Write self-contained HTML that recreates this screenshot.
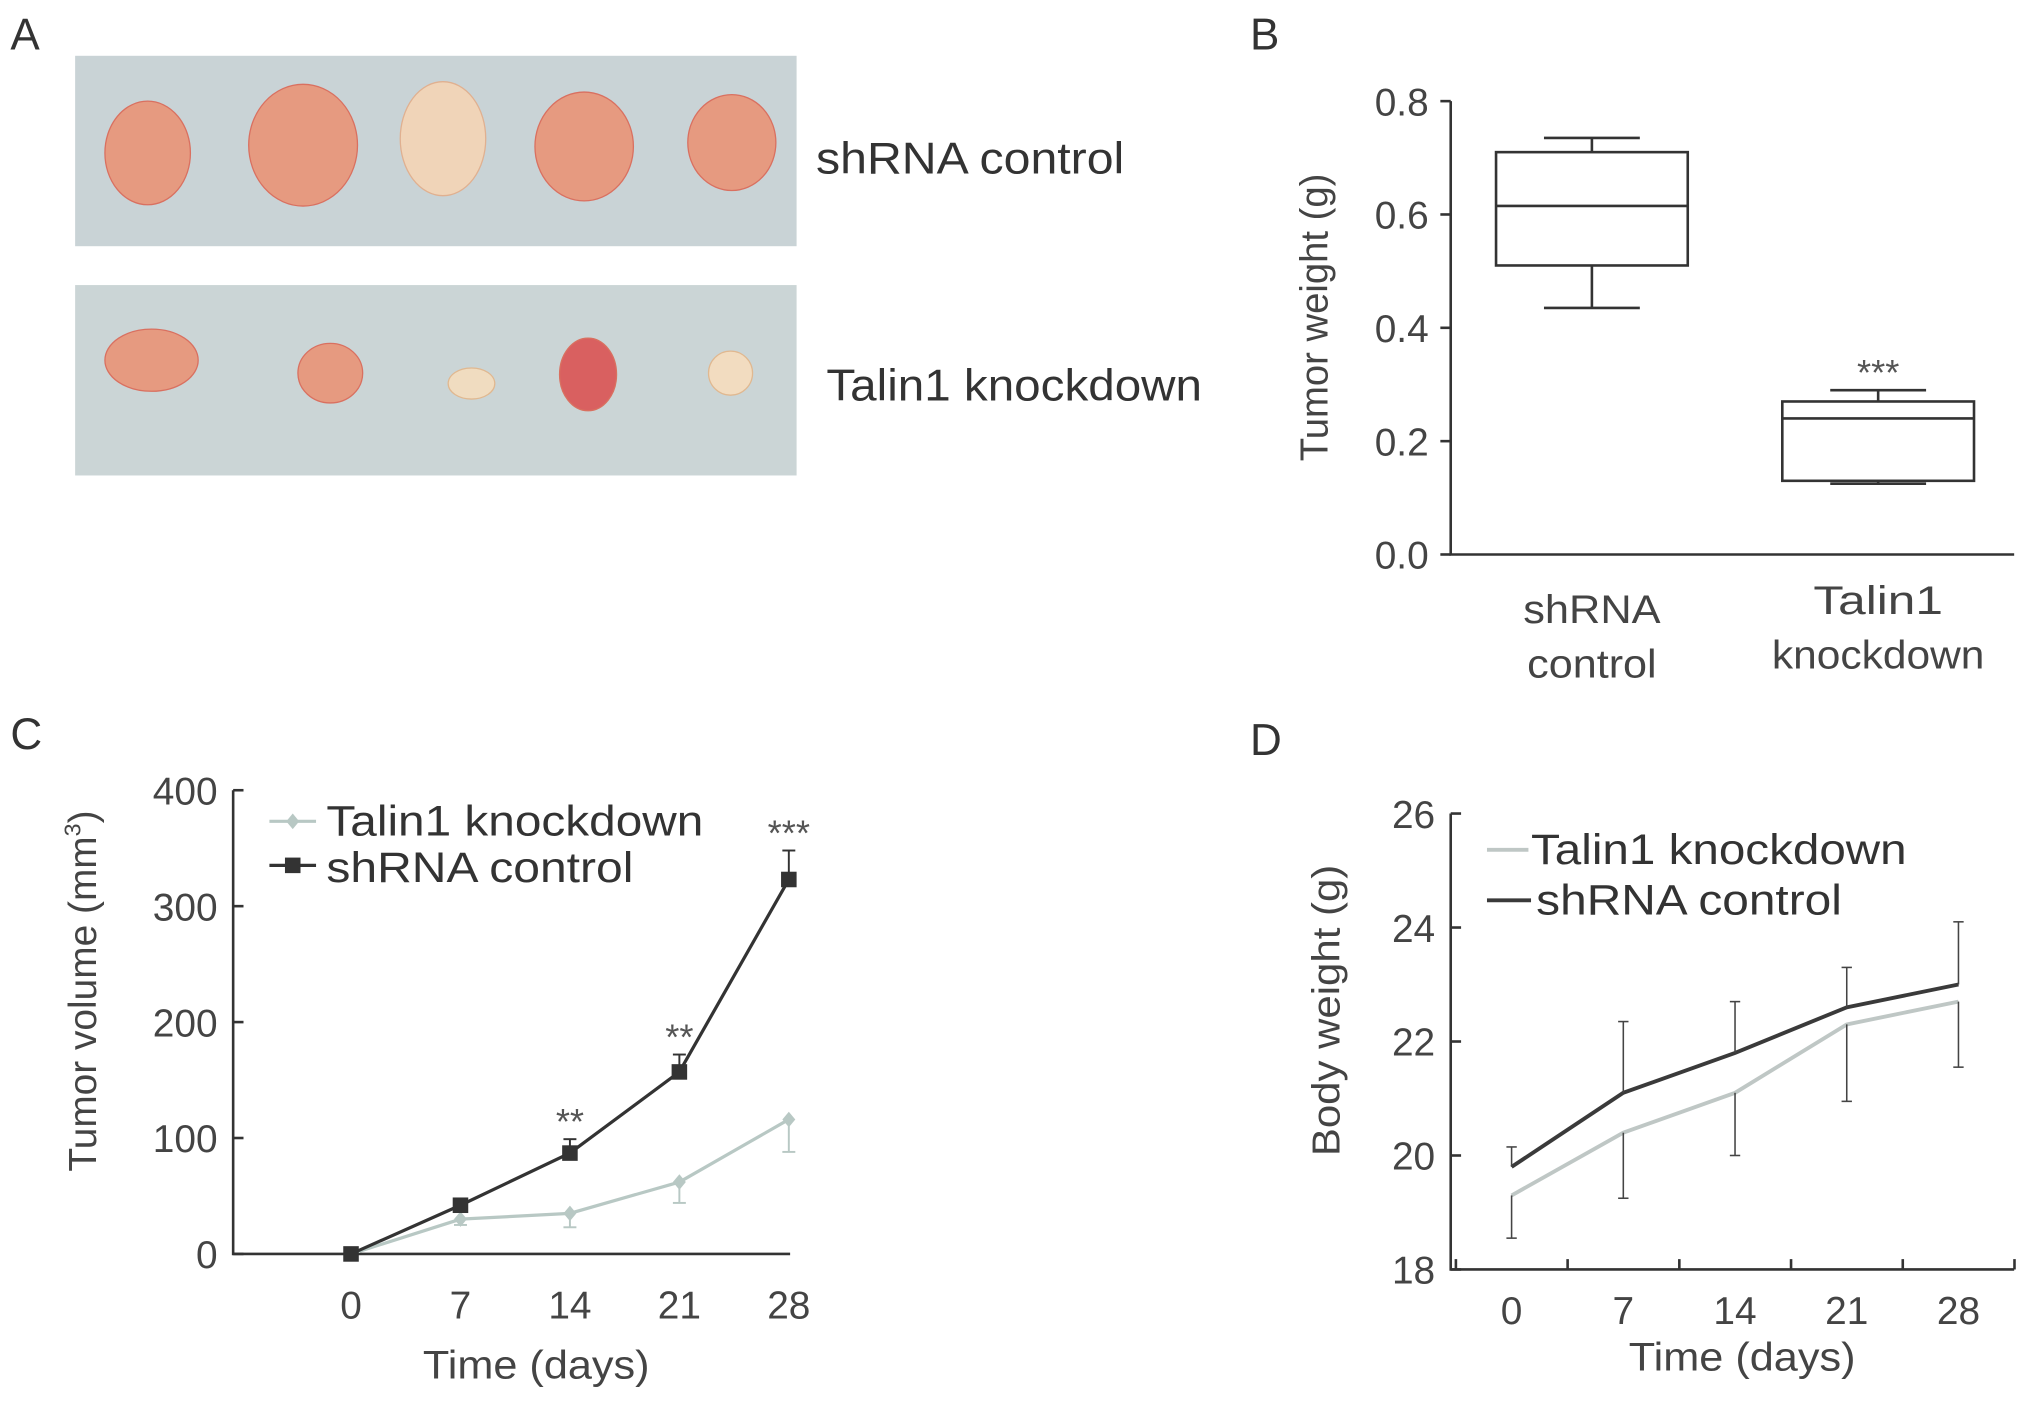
<!DOCTYPE html>
<html><head><meta charset="utf-8">
<style>
html,body{margin:0;padding:0;background:#fff;}
svg{display:block;font-family:"Liberation Sans",sans-serif;}
</style></head>
<body>
<svg id="fig" width="2031" height="1403" viewBox="0 0 1568 1083" xmlns="http://www.w3.org/2000/svg">
<g>
<text x="8" y="38" font-size="34" fill="#333">A</text>
<rect x="58" y="43" width="557" height="147" fill="#c9d3d6"/>
<rect x="58" y="220" width="557" height="147" fill="#cbd5d6"/>
<g fill="#e69a80" stroke="#d97060" stroke-width="1">
<ellipse cx="114" cy="118" rx="33" ry="40"/>
<ellipse cx="234" cy="112" rx="42" ry="47"/>
<ellipse cx="342" cy="107" rx="33" ry="44" fill="#f0d4b8" stroke="#e0b090"/>
<ellipse cx="451" cy="113" rx="38" ry="42"/>
<ellipse cx="565" cy="110" rx="34" ry="37"/>
<ellipse cx="117" cy="278" rx="36" ry="24"/>
<ellipse cx="255" cy="288" rx="25" ry="23"/>
<ellipse cx="364" cy="296" rx="18" ry="12" fill="#f0dcc0" stroke="#e0b890"/>
<ellipse cx="454" cy="289" rx="22" ry="28" fill="#d96060"/>
<ellipse cx="564" cy="288" rx="17" ry="17" fill="#f2dcc0" stroke="#e0b890"/>
</g>
<text x="630" y="134" font-size="34" fill="#333" textLength="238" lengthAdjust="spacingAndGlyphs">shRNA control</text>
<text x="638" y="309" font-size="34" fill="#333" textLength="290" lengthAdjust="spacingAndGlyphs">Talin1 knockdown</text>
</g>
<text x="965" y="38" font-size="34" fill="#333">B</text>
<text x="8" y="578" font-size="34" fill="#333">C</text>
<text x="965" y="583" font-size="34" fill="#333">D</text>
<g id="b"></g>
<g id="c"></g>
<g id="d"></g>
</svg>
<script>
// Panel B data
const bCategories = [["shRNA","control"],["Talin1","knockdown"]];
const bMin = [0.435, 0.125];
const bQ1 = [0.51, 0.13];
const bMedian = [0.615, 0.24];
const bQ3 = [0.71, 0.27];
const bMax = [0.735, 0.29];
const bTicks = ["0.0","0.2","0.4","0.6","0.8"];
const bStars = ["", "***"];
// Panel C data
const cDays = [0,7,14,21,28];
const cControl = [0,42,87,157,323];
const cControlErr = [0,5,12,15,25];
const cKnock = [0,30,35,62,116];
const cKnockErr = [0,5,12,18,28];
const cYTicks = [0,100,200,300,400];
const cStars = ["","","**","**","***"];
// Panel D data
const dDays = [0,7,14,21,28];
const dControl = [19.8,21.1,21.8,22.6,23.0];
const dControlErr = [0.35,1.25,0.9,0.7,1.1];
const dKnock = [19.3,20.4,21.1,22.3,22.7];
const dKnockErr = [0.75,1.15,1.1,1.35,1.15];
const dYTicks = [18,20,22,24,26];

const NS="http://www.w3.org/2000/svg";
function mk(parent,tag,attrs,text){const e=document.createElementNS(NS,tag);for(const k in attrs)e.setAttribute(k,attrs[k]);if(text!==undefined)e.textContent=text;parent.appendChild(e);return e;}

// ---- Panel B
(function(){
const g=document.getElementById('b');
const y=v=>428-v/0.8*350;
const x=i=>1229+i*221;
const ax=mk(g,'path',{d:'M1120 78 V428 H1555',fill:'none',stroke:'#333','stroke-width':2});


bTicks.forEach(t=>{const v=parseFloat(t);
 const tk=mk(g,'line',{x1:1112,x2:1120,y1:y(v),y2:y(v),stroke:'#333','stroke-width':2});
 
 
 const lb=mk(g,'text',{x:1103,y:y(v)+11,'font-size':30,'text-anchor':'end',fill:'#444'},t);
 
 
});
const yt=mk(g,'text',{transform:'translate(1025 245) rotate(-90)','font-size':30,'text-anchor':'middle',fill:'#444',textLength:222,lengthAdjust:'spacingAndGlyphs'},'Tumor weight (g)');


const lens=[[106,100],[100,164]];
bCategories.forEach((c,i)=>{
 const cx=x(i),w=74;
 const bx=mk(g,'g',{stroke:'#333','stroke-width':2,fill:'none'});
 
 
 mk(bx,'rect',{x:cx-w,y:y(bQ3[i]),width:2*w,height:y(bQ1[i])-y(bQ3[i])});
 mk(bx,'line',{x1:cx-w,x2:cx+w,y1:y(bMedian[i]),y2:y(bMedian[i])});
 mk(bx,'line',{x1:cx,x2:cx,y1:y(bMax[i]),y2:y(bQ3[i])});
 mk(bx,'line',{x1:cx,x2:cx,y1:y(bQ1[i]),y2:y(bMin[i])});
 mk(bx,'line',{x1:cx-37,x2:cx+37,y1:y(bMax[i]),y2:y(bMax[i])});
 mk(bx,'line',{x1:cx-37,x2:cx+37,y1:y(bMin[i]),y2:y(bMin[i])});
 c.forEach((ln,j)=>{const t=mk(g,'text',{x:cx,y:478+j*42+(i===0?3:-4),'font-size':31,'text-anchor':'middle',fill:'#444',textLength:lens[i][j],lengthAdjust:'spacingAndGlyphs'},ln);
  
  });
 if(bStars[i]){const s=mk(g,'text',{x:cx,y:y(bMax[i])-4,'font-size':28,'text-anchor':'middle',fill:'#555'},bStars[i]);
  
  }
});
})();

// ---- Panel C
(function(){
const g=document.getElementById('c');
const y=v=>968-v/400*358;
const x=d=>271+d/28*338;
const ax=mk(g,'path',{d:'M180 610 V968 H610',fill:'none',stroke:'#333','stroke-width':2});


cYTicks.forEach(v=>{
 const tk=mk(g,'line',{x1:180,x2:188,y1:y(v),y2:y(v),stroke:'#333','stroke-width':2});
 
 
 const lb=mk(g,'text',{x:168,y:y(v)+11,'font-size':30,'text-anchor':'end',fill:'#444'},v);
 
 
});
cDays.forEach(d=>{
 const lb=mk(g,'text',{x:x(d),y:1018,'font-size':30,'text-anchor':'middle',fill:'#444'},d);
 
 
});
const xt=mk(g,'text',{x:414,y:1064,'font-size':31,'text-anchor':'middle',fill:'#444',textLength:175,lengthAdjust:'spacingAndGlyphs'},'Time (days)');


const yt=mk(g,'text',{transform:'translate(74 765) rotate(-90)','font-size':30,'text-anchor':'middle',fill:'#444'},'Tumor volume (mm');


mk(yt,'tspan',{'font-size':18,dy:-12},'3');
mk(yt,'tspan',{dy:12},')');
function series(vals,errs,color,marker,name,up){
 const sg=mk(g,'g',{});
 
 
 mk(sg,'polyline',{points:vals.map((v,i)=>x(cDays[i])+','+y(v)).join(' '),fill:'none',stroke:color,'stroke-width':2.5});
 vals.forEach((v,i)=>{const px=x(cDays[i]),py=y(v),e=up?y(v+errs[i]):y(v-errs[i]);
  if(errs[i]>0){mk(sg,'line',{x1:px,x2:px,y1:py,y2:e,stroke:color,'stroke-width':1.5});mk(sg,'line',{x1:px-5,x2:px+5,y1:e,y2:e,stroke:color,'stroke-width':1.5});}
  if(marker==='sq')mk(sg,'rect',{x:px-6,y:py-6,width:12,height:12,fill:color});
  else mk(sg,'path',{d:`M${px} ${py-6}L${px+5} ${py}L${px} ${py+6}L${px-5} ${py}Z`,fill:color});
 });
}
series(cKnock,cKnockErr,'#b8c8c4','di','series-talin1-knockdown',false);
series(cControl,cControlErr,'#333','sq','series-shrna-control',true);
cStars.forEach((s,i)=>{if(!s)return;const t=mk(g,'text',{x:x(cDays[i]),y:y(cControl[i]+cControlErr[i])-4,'font-size':28,'text-anchor':'middle',fill:'#555'},s);
 
 });
const l1=mk(g,'g',{});


mk(l1,'line',{x1:208,x2:244,y1:634,y2:634,stroke:'#b8c8c4','stroke-width':2.5});
mk(l1,'path',{d:'M226 628L231 634L226 640L221 634Z',fill:'#b8c8c4'});
mk(l1,'text',{x:252,y:645,'font-size':33,fill:'#333',textLength:291,lengthAdjust:'spacingAndGlyphs'},'Talin1 knockdown');
const l2=mk(g,'g',{});


mk(l2,'line',{x1:208,x2:244,y1:668,y2:668,stroke:'#333','stroke-width':2.5});
mk(l2,'rect',{x:220,y:662,width:12,height:12,fill:'#333'});
mk(l2,'text',{x:252,y:681,'font-size':33,fill:'#333',textLength:237,lengthAdjust:'spacingAndGlyphs'},'shRNA control');
})();

// ---- Panel D
(function(){
const g=document.getElementById('d');
const y=v=>980-(v-18)/8*352;
const x=d=>1167+d/28*345;
const ax=mk(g,'path',{d:'M1120 628 V980 H1555',fill:'none',stroke:'#333','stroke-width':2});


dYTicks.forEach(v=>{
 const tk=mk(g,'line',{x1:1120,x2:1128,y1:y(v),y2:y(v),stroke:'#333','stroke-width':2});
 
 
 const lb=mk(g,'text',{x:1108,y:y(v)+11,'font-size':30,'text-anchor':'end',fill:'#444'},v);
 
 
});
[0,7,14,21,28,35].forEach(d=>{const tx=x(d)-43;
 const tk=mk(g,'line',{x1:tx,x2:tx,y1:980,y2:972,stroke:'#333','stroke-width':2});
 
 });
dDays.forEach(d=>{
 const lb=mk(g,'text',{x:x(d),y:1022,'font-size':30,'text-anchor':'middle',fill:'#444'},d);
 
 
});
const xt=mk(g,'text',{x:1345,y:1058,'font-size':31,'text-anchor':'middle',fill:'#444',textLength:175,lengthAdjust:'spacingAndGlyphs'},'Time (days)');


const yt=mk(g,'text',{transform:'translate(1034 780) rotate(-90)','font-size':30,'text-anchor':'middle',fill:'#444',textLength:225,lengthAdjust:'spacingAndGlyphs'},'Body weight (g)');


function series(vals,errs,color,name,up){
 const sg=mk(g,'g',{});
 
 
 mk(sg,'polyline',{points:vals.map((v,i)=>x(dDays[i])+','+y(v)).join(' '),fill:'none',stroke:color,'stroke-width':3});
 vals.forEach((v,i)=>{const px=x(dDays[i]),e=up?y(v+errs[i]):y(v-errs[i]);
  mk(sg,'line',{x1:px,x2:px,y1:y(v),y2:e,stroke:'#444','stroke-width':1.2});
  mk(sg,'line',{x1:px-4,x2:px+4,y1:e,y2:e,stroke:'#444','stroke-width':1.2});});
}
series(dKnock,dKnockErr,'#bfc7c5','series-talin1-knockdown',false);
series(dControl,dControlErr,'#3a3a3a','series-shrna-control',true);
const l1=mk(g,'g',{});


mk(l1,'line',{x1:1148,x2:1180,y1:656,y2:656,stroke:'#bfc7c5','stroke-width':3});
mk(l1,'text',{x:1182,y:667,'font-size':33,fill:'#333',textLength:290,lengthAdjust:'spacingAndGlyphs'},'Talin1 knockdown');
const l2=mk(g,'g',{});


mk(l2,'line',{x1:1148,x2:1182,y1:695,y2:695,stroke:'#3a3a3a','stroke-width':3});
mk(l2,'text',{x:1186,y:706,'font-size':33,fill:'#333',textLength:236,lengthAdjust:'spacingAndGlyphs'},'shRNA control');
})();
</script>
</body></html>
